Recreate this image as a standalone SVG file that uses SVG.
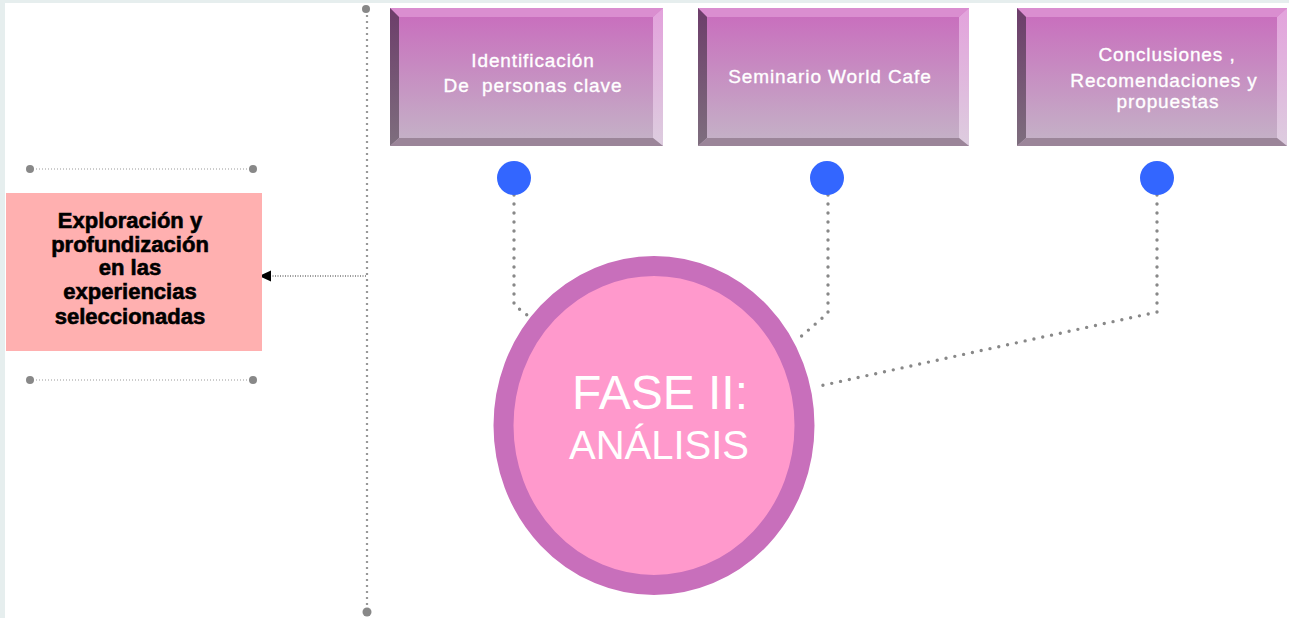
<svg xmlns="http://www.w3.org/2000/svg" width="1289" height="618" viewBox="0 0 1289 618">
  <defs>
    <linearGradient id="face" x1="0" y1="0" x2="0" y2="1">
      <stop offset="0" stop-color="#c96bbd"/>
      <stop offset="1" stop-color="#c4b4c7"/>
    </linearGradient>
    <linearGradient id="bevelLeft" x1="0" y1="0" x2="0" y2="1">
      <stop offset="0" stop-color="#6c3d6a"/>
      <stop offset="1" stop-color="#7e6e7e"/>
    </linearGradient>
    <linearGradient id="bevelRight" x1="0" y1="0" x2="0" y2="1">
      <stop offset="0" stop-color="#e3a2dc"/>
      <stop offset="1" stop-color="#ddcddf"/>
    </linearGradient>
    <style>
      .bevel-top { fill: #da8ed0; }
      .bevel-left { fill: url(#bevelLeft); }
      .bevel-right { fill: url(#bevelRight); }
      .bevel-bottom { fill: #9b8599; }
      .face { fill: url(#face); }
      .box-label { font-family: "Liberation Sans", Arial, sans-serif; font-size: 19px; fill: #ffffff; stroke: #ffffff; stroke-width: 0.35; text-anchor: middle; letter-spacing: 0.9px; white-space: pre; }
      .pin { fill: #3366ff; }
      .dots { fill: none; stroke: #888888; stroke-width: 3.4; stroke-linecap: round; stroke-dasharray: 0 9; }
      .fine-dots { fill: none; stroke: #9a9a9a; stroke-width: 1.2; stroke-dasharray: 1 2; }
      .end-dot { fill: #888888; }
      .phase-label { font-family: "Liberation Sans", Arial, sans-serif; fill: #ffffff; text-anchor: middle; }
      .side-label { font-family: "Liberation Sans", Arial, sans-serif; font-size: 22px; font-weight: bold; fill: #000000; stroke: #000000; stroke-width: 0.6; text-anchor: middle; }
    </style>
  </defs>

  <!-- page background with light frame at top and left -->
  <rect x="0" y="0" width="1289" height="618" fill="#e6eeee"/>
  <rect x="5" y="3" width="1284" height="615" fill="#ffffff"/>

  <!-- connectors -->
  <g id="connectors">
    <!-- vertical timeline divider -->
    <line x1="367" y1="9" x2="367" y2="612" stroke="#999999" stroke-width="2.2" stroke-dasharray="2 4"/>
    <circle class="end-dot" cx="366" cy="9" r="4"/>
    <circle class="end-dot" cx="367" cy="612" r="4.5"/>
    <!-- guides around the side box -->
    <line class="fine-dots" x1="30" y1="169" x2="253" y2="169"/>
    <circle class="end-dot" cx="30" cy="169" r="4"/>
    <circle class="end-dot" cx="253" cy="169" r="4"/>
    <line class="fine-dots" x1="30" y1="380" x2="253" y2="380"/>
    <circle class="end-dot" cx="30" cy="380" r="4"/>
    <circle class="end-dot" cx="253" cy="380" r="4"/>
    <!-- arrow into side box -->
    <line x1="366" y1="276" x2="270" y2="276" stroke="#333333" stroke-width="1.2" stroke-dasharray="1 1.5"/>
    <polygon points="259,276 271,270.5 271,281.5" fill="#000000"/>
    <!-- pins to the phase circle -->
    <polyline class="dots" points="514,195 514,305 531,318"/>
    <polyline class="dots" points="828,195 828,313 797,340"/>
    <polyline class="dots" points="1157,195 1157,312 815,387"/>
  </g>

  <!-- step boxes -->
  <g id="box-identificacion">
    <rect class="face" x="390" y="8" width="273" height="138"/>
    <polygon class="bevel-top" points="390,8 663,8 653,17 399,17"/>
    <polygon class="bevel-left" points="390,8 399,17 399,138 390,146"/>
    <polygon class="bevel-right" points="663,8 663,146 653,138 653,17"/>
    <polygon class="bevel-bottom" points="390,146 399,138 653,138 663,146"/>
    <text class="box-label" x="533" y="67">Identificación</text>
    <text class="box-label" x="533" y="92">De  personas clave</text>
  </g>

  <g id="box-seminario">
    <rect class="face" x="698" y="8" width="271" height="138"/>
    <polygon class="bevel-top" points="698,8 969,8 959,17 707,17"/>
    <polygon class="bevel-left" points="698,8 707,17 707,138 698,146"/>
    <polygon class="bevel-right" points="969,8 969,146 959,138 959,17"/>
    <polygon class="bevel-bottom" points="698,146 707,138 959,138 969,146"/>
    <text class="box-label" x="830" y="83">Seminario World Cafe</text>
  </g>

  <g id="box-conclusiones">
    <rect class="face" x="1017" y="8" width="270" height="138"/>
    <polygon class="bevel-top" points="1017,8 1287,8 1277,17 1026,17"/>
    <polygon class="bevel-left" points="1017,8 1026,17 1026,138 1017,146"/>
    <polygon class="bevel-right" points="1287,8 1287,146 1277,138 1277,17"/>
    <polygon class="bevel-bottom" points="1017,146 1026,138 1277,138 1287,146"/>
    <text class="box-label" x="1167" y="61">Conclusiones ,</text>
    <text class="box-label" x="1164" y="87">Recomendaciones y</text>
    <text class="box-label" x="1168" y="108">propuestas</text>
  </g>

  <!-- pins -->
  <g id="pin-1"><circle class="pin" cx="514" cy="178" r="17"/></g>
  <g id="pin-2"><circle class="pin" cx="827" cy="178" r="17"/></g>
  <g id="pin-3"><circle class="pin" cx="1157" cy="178" r="17"/></g>

  <!-- central phase circle -->
  <g id="fase-ii">
    <ellipse cx="654" cy="425.5" rx="150.5" ry="159.5" fill="#ff99cc" stroke="#c86fbb" stroke-width="20"/>
    <text class="phase-label" x="660" y="409" font-size="48">FASE II:</text>
    <text class="phase-label" x="659" y="459" font-size="40">ANÁLISIS</text>
  </g>

  <!-- side box -->
  <g id="exploracion">
    <rect x="6" y="193" width="256" height="158" fill="#ffb0b0"/>
    <text class="side-label" x="130" y="228">Exploración y</text>
    <text class="side-label" x="130" y="252">profundización</text>
    <text class="side-label" x="130" y="275">en las</text>
    <text class="side-label" x="130" y="299">experiencias</text>
    <text class="side-label" x="130" y="324">seleccionadas</text>
  </g>
</svg>
